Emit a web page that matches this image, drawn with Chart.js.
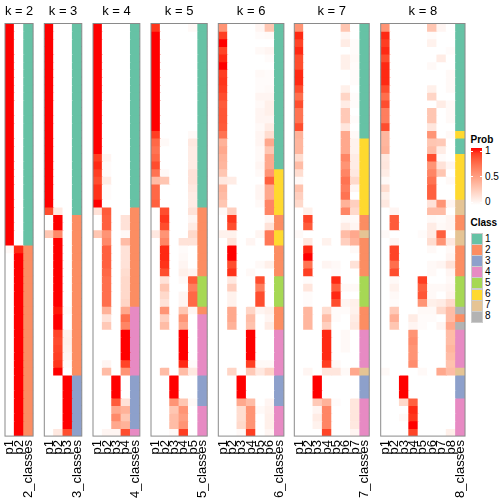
<!DOCTYPE html>
<html><head><meta charset="utf-8">
<script src="https://cdn.jsdelivr.net/npm/chart.js@4.4.1/dist/chart.umd.min.js"></script>
<style>
body{margin:0;width:504px;height:504px;overflow:hidden;background:#fff;position:relative;font-family:"Liberation Sans",Arial,sans-serif;}
canvas{position:absolute;top:0;}
.lg{position:absolute;font-size:10px;color:#000;line-height:10px;white-space:nowrap;}
.lgt{font-weight:bold;}
</style></head><body>
<script>
// ---------------- DATA ----------------
const panelKs = [2,3,4,5,6,7,8];
const tickLabelsK2 = ['p1','p2','2_classes'];
const tickLabelsK3 = ['p1','p2','p3','3_classes'];
const tickLabelsK4 = ['p1','p2','p3','p4','4_classes'];
const tickLabelsK5 = ['p1','p2','p3','p4','p5','5_classes'];
const tickLabelsK6 = ['p1','p2','p3','p4','p5','p6','6_classes'];
const tickLabelsK7 = ['p1','p2','p3','p4','p5','p6','p7','7_classes'];
const tickLabelsK8 = ['p1','p2','p3','p4','p5','p6','p7','p8','8_classes'];
const classNames = ['1','2','3','4','5','6','7','8'];
const probTicks = ['1','0.5','0'];

const classK2 = [1,1,1,1,1,1,1,1,1,1,1,1,1,1,1,1,1,1,1,1,1,1,1,1,1,1,1,1,1,2,2,2,2,2,2,2,2,2,2,2,2,2,2,2,2,2,2,2,2,2,2,2,2,2];
const probK2 = [
[1,0],[1,0],[1,0],[1,0],[1,0],[1,0],[1,0],[1,0],[1,0],[1,0],
[1,0],[1,0],[1,0],[1,0],[1,0],[1,0],[1,0],[1,0],[1,0],[1,0],
[1,0],[1,0],[1,0],[1,0],[1,0],[1,0],[1,0],[1,0],[1,0],[0.03,0.95],
[0,1],[0,1],[0,1],[0,1],[0,1],[0,1],[0,1],[0,1],[0,1],[0,1],
[0,1],[0,1],[0,1],[0,1],[0,1],[0,1],[0,1],[0,1],[0,1],[0,1],
[0,1],[0,1],[0,1],[0,1]];

const classK3 = [1,1,1,1,1,1,1,1,1,1,1,1,1,1,1,1,1,1,1,1,1,1,1,1,1,2,2,2,2,2,2,2,2,2,2,2,2,2,2,2,2,2,2,2,2,2,3,3,3,3,3,3,3,3];
const probK3 = [
[1,0,0],[1,0,0],[1,0,0],[1,0,0],[1,0,0],[1,0,0],[1,0,0],[1,0,0],[1,0,0],[1,0,0],
[1,0,0],[1,0,0],[1,0,0],[1,0,0],[1,0,0],[1,0,0],[1,0,0],[1,0,0],[1,0,0],[1,0,0],
[1,0,0],[1,0,0],[1,0,0],[1,0,0],[0.85,0.12,0],[0,1,0],[0,1,0],[0.3,0.6,0],[0,1,0],[0,1,0],
[0,1,0],[0,1,0],[0,1,0],[0,1,0],[0,1,0],[0,1,0],[0,1,0],[0,0.98,0.02],[0,1,0],[0,1,0],
[0,0.88,0.07],[0,0.86,0.08],[0,0.88,0.07],[0,0.9,0.05],[0,0.92,0.02],[0,1,0],[0,0,1],[0,0,1],[0,0,1],[0,0,1],
[0,0,1],[0,0,1],[0,0,1],[0,0.12,0.85]];

const classK4 = [1,1,1,1,1,1,1,1,1,1,1,1,1,1,1,1,1,1,1,1,1,1,1,1,2,2,2,2,2,2,2,2,2,2,2,2,2,4,4,4,4,4,4,4,4,4,3,3,3,3,3,3,3,4];
const probK4 = [
[1,0,0,0],[1,0,0,0],[1,0,0,0],[1,0,0,0],[1,0,0,0],[1,0,0,0],[1,0,0,0],[1,0,0,0],[1,0,0,0],[1,0,0,0],
[1,0,0,0],[1,0,0,0],[1,0,0,0],[1,0,0,0],[1,0,0,0],[1,0,0,0],[1,0,0,0],[0.9,0.05,0,0],[0.95,0.02,0,0],[0.9,0.02,0,0],
[0.85,0.1,0,0],[0.93,0.02,0,0],[0.93,0.02,0,0],[1,0,0,0],[0.15,0.8,0,0],[0,0.78,0,0.15],[0,0.78,0,0.15],[0.3,0.55,0,0.03],[0,0.6,0,0.35],[0,0.78,0,0.15],
[0,0.78,0,0.15],[0,0.78,0,0.15],[0,0.75,0,0.18],[0,0.72,0,0.2],[0,0.72,0,0.2],[0,0.72,0,0.2],[0,0.72,0,0.22],[0,0.4,0,0.45],[0,0.15,0,0.72],[0,0.28,0,0.62],
[0,0,0,1],[0,0,0,1],[0,0,0,1],[0,0,0,1],[0,0.05,0,0.88],[0,0.35,0,0.55],[0,0,1,0],[0,0,1,0],[0,0,1,0],[0,0,0.8,0.15],
[0,0,0.45,0.4],[0,0,0.6,0.3],[0,0,0.45,0.4],[0,0.05,0.05,0.85]];

const classK5 = [1,1,1,1,1,1,1,1,1,1,1,1,1,1,1,1,1,1,1,1,1,1,1,1,2,2,2,2,2,2,2,2,2,5,5,5,5,2,4,4,4,4,4,4,4,4,3,3,3,3,4,4,4,4];
const probK5 = [
[0.92,0,0,0,0.03],[1,0,0,0,0],[1,0,0,0,0],[1,0,0,0,0],[1,0,0,0,0],[1,0,0,0,0],[1,0,0,0,0],[1,0,0,0,0],[1,0,0,0,0],[1,0,0,0,0],
[1,0,0,0,0],[1,0,0,0,0],[1,0,0,0,0],[1,0,0,0,0],[0.9,0,0,0,0.03],[0.75,0.03,0,0,0.12],[0.7,0,0,0,0.1],[0.75,0,0,0,0.1],[0.85,0,0,0,0.1],[0.7,0.03,0,0,0.15],
[0.35,0.3,0,0,0.15],[0.75,0,0,0,0.12],[0.75,0,0,0,0.1],[0.78,0,0,0,0.1],[0,0.85,0,0,0.15],[0,0.92,0,0,0.05],[0,0.85,0,0,0.1],[0.12,0.55,0,0,0.2],[0,0.62,0,0.15,0.15],[0,0.95,0,0.02,0],
[0,0.95,0,0.03,0],[0,0.93,0,0.05,0],[0,0.85,0,0.08,0.05],[0,0.15,0,0.03,0.8],[0,0.3,0,0,0.65],[0,0.2,0,0.05,0.75],[0,0.15,0,0.05,0.75],[0,0.55,0,0.3,0.05],[0,0.25,0,0.55,0],[0,0.35,0,0.45,0],
[0,0,0,1,0],[0,0,0,1,0],[0,0,0,1,0],[0,0,0,1,0],[0,0,0,0.95,0.02],[0,0.35,0,0.35,0.12],[0,0,1,0,0],[0,0,1,0,0],[0,0,1,0,0],[0,0,0.55,0.3,0.03],
[0,0,0.3,0.55,0],[0,0,0.35,0.5,0],[0,0,0.35,0.55,0],[0,0,0.03,0.9,0]];

const classK6 = [1,1,1,1,1,1,1,1,1,1,1,1,1,1,1,1,1,1,1,6,6,6,6,6,6,2,2,6,6,2,2,2,2,5,5,5,5,2,2,2,4,4,4,4,4,4,3,3,3,3,4,4,4,4];
const probK6 = [
[0.55,0,0,0,0.05,0.3],[0.9,0,0,0,0.02,0.03],[1,0,0,0,0,0],[0.88,0,0,0,0.03,0.05],[0.95,0,0,0,0,0.02],[1,0,0,0,0,0],[0.9,0,0,0,0.03,0.02],[0.92,0,0,0,0.02,0.02],[0.9,0,0,0,0.02,0.03],[0.85,0,0,0,0.05,0.05],
[0.8,0,0,0,0.03,0.08],[0.82,0,0,0,0.05,0.08],[0.82,0,0,0,0.05,0.05],[0.8,0,0,0,0.03,0.1],[0.7,0,0,0,0.05,0.18],[0.4,0,0,0,0.05,0.45],[0.45,0,0,0,0.03,0.3],[0.4,0,0,0,0.03,0.45],[0.38,0,0,0,0.05,0.45],[0.3,0,0,0,0.03,0.55],
[0.12,0.1,0,0,0,0.78],[0.38,0,0,0,0.05,0.45],[0.35,0,0,0,0.05,0.45],[0.3,0,0,0,0.03,0.62],[0.03,0.25,0,0,0,0.62],[0,0.92,0,0,0,0.05],[0,0.85,0,0,0,0.15],[0.07,0.07,0,0,0.05,0.68],[0,0.15,0,0.05,0,0.68],[0,1,0,0,0,0],
[0,1,0,0,0,0],[0,0.85,0,0,0.03,0.08],[0,0.93,0,0.03,0,0],[0,0.12,0,0,0.85,0],[0,0.25,0,0,0.65,0],[0,0.07,0,0,0.85,0],[0,0.07,0,0,0.85,0],[0,0.45,0,0.22,0.05,0.08],[0,0.45,0,0.35,0,0.05],[0,0.4,0,0.32,0,0.1],
[0,0,0,1,0,0],[0,0,0,1,0,0],[0,0,0,1,0,0],[0,0,0,1,0,0],[0,0,0,0.9,0.03,0.03],[0,0.22,0,0.28,0.12,0.22],[0,0,1,0,0,0],[0,0,1,0,0,0],[0,0,1,0,0,0],[0,0,0.45,0.35,0,0.05],
[0,0,0.18,0.55,0.03,0.07],[0,0,0.18,0.55,0,0.08],[0,0,0.2,0.55,0,0.08],[0,0,0.03,0.9,0,0.05]];

const classK7 = [1,1,1,1,1,1,1,1,1,1,1,1,1,1,1,6,6,6,6,6,6,6,6,6,6,2,2,7,2,2,2,2,2,5,5,5,5,2,2,2,4,4,4,4,4,7,3,3,3,4,4,4,4,4];
const probK7 = [
[0.55,0,0,0,0,0.3,0],[0.95,0,0,0,0,0.05,0],[0.88,0,0,0,0,0.1,0.02],[0.95,0,0,0,0,0,0.02],[0.85,0,0,0,0,0.08,0.03],[0.85,0,0,0,0,0.08,0.02],[0.95,0,0,0,0,0,0.02],[0.95,0,0,0,0,0,0.02],[0.85,0,0,0,0,0.08,0],[0.72,0,0,0,0,0.22,0.02],
[0.85,0,0,0,0,0.1,0.02],[0.7,0,0,0,0,0.28,0],[0.7,0,0,0,0,0.28,0.02],[0.85,0,0,0,0,0.13,0],[0.4,0,0,0,0,0.45,0.03],[0.38,0,0,0,0,0.45,0.07],[0.38,0,0,0,0,0.45,0.07],[0.18,0,0,0,0,0.62,0.1],[0.35,0,0,0,0,0.55,0.1],[0.18,0,0,0,0,0.62,0.12],
[0.03,0,0,0,0,0.7,0.2],[0.32,0,0,0,0,0.65,0.05],[0.25,0,0,0,0,0.7,0],[0.2,0,0,0,0,0.4,0.25],[0,0.08,0,0,0,0.62,0.2],[0,0.88,0,0,0,0.03,0.03],[0,0.8,0,0,0,0.1,0.05],[0.03,0,0,0,0,0.35,0.45],[0,0.12,0,0.07,0,0.25,0.4],[0,0.95,0,0,0,0,0.03],
[0,1,0,0,0,0,0],[0,0.7,0,0.05,0.03,0,0.15],[0,0.9,0,0,0.02,0,0],[0,0.02,0,0,0.95,0,0],[0,0.13,0,0,0.78,0.03,0.03],[0,0.02,0,0,0.95,0,0],[0,0.02,0,0,0.85,0.05,0.08],[0,0.38,0,0.18,0.02,0.02,0.07],[0,0.38,0,0.35,0.02,0,0.1],[0,0.38,0,0.25,0,0,0.12],
[0,0,0,0.95,0,0.03,0],[0,0,0,0.95,0,0.03,0],[0,0,0,0.95,0,0.03,0],[0,0,0,0.95,0,0,0],[0,0,0,0.9,0.03,0,0],[0,0.05,0,0.13,0.13,0.03,0.45],[0,0,1,0,0,0,0],[0,0,1,0,0,0,0],[0,0,1,0,0,0,0],[0,0,0.28,0.4,0.02,0,0.13],
[0,0,0.05,0.62,0,0,0.13],[0,0,0.1,0.62,0,0,0.13],[0,0,0.07,0.62,0,0,0.12],[0,0,0,0.88,0,0,0.05]];

const classK8 = [1,1,1,1,1,1,1,1,1,1,1,1,1,1,6,1,1,6,6,6,6,6,6,7,7,2,2,7,7,2,2,2,2,5,5,5,5,8,2,8,4,4,4,4,4,7,3,3,3,4,4,4,4,4];
const probK8 = [
[0.55,0,0,0,0,0.3,0.05,0],[0.95,0,0,0,0,0.02,0,0],[0.9,0,0,0,0,0.07,0,0],[0.95,0,0,0,0,0,0,0.02],[0.85,0,0,0,0,0,0.1,0],[0.95,0,0,0,0,0.03,0,0],[0.95,0,0,0,0,0,0,0.03],[0.95,0,0,0,0,0,0,0.03],[0.85,0,0,0,0,0.08,0,0.03],[0.72,0,0,0,0,0.22,0,0],
[0.85,0,0,0,0,0,0.1,0.03],[0.65,0,0,0,0,0.3,0,0.03],[0.65,0,0,0,0,0.3,0,0.03],[0.85,0,0,0,0,0.13,0,0],[0.38,0,0,0,0,0.55,0,0.03],[0.38,0,0,0,0,0.3,0.28,0],[0.4,0,0,0,0,0.35,0.1,0],[0.12,0,0,0,0,0.85,0.02,0],[0.13,0,0,0,0,0.55,0.15,0.05],[0.1,0,0,0,0,0.62,0.3,0],
[0.03,0,0,0,0,0.7,0,0.03],[0.18,0,0,0,0,0.78,0,0],[0.08,0,0,0,0,0.78,0,0],[0.12,0,0,0,0,0.15,0.55,0.05],[0,0.05,0,0,0,0.35,0.35,0],[0,0.8,0,0,0,0.03,0.02,0.05],[0,0.8,0,0,0,0.1,0.03,0.05],[0.03,0,0,0,0.02,0.1,0.78,0],[0,0.05,0,0,0,0.18,0.55,0.12],[0,0.88,0,0,0,0.03,0,0.03],
[0,0.88,0,0,0,0,0,0.05],[0,0.72,0,0,0,0.03,0.05,0.15],[0,0.85,0,0,0,0.03,0,0.05],[0,0.03,0,0,0.9,0,0,0.03],[0,0.07,0,0,0.78,0.03,0.03,0.05],[0,0.03,0,0,0.82,0.03,0,0.07],[0,0.02,0,0,0.55,0.08,0.1,0.2],[0,0.28,0,0,0.03,0.03,0.2,0.35],[0,0.42,0,0.1,0.02,0.02,0,0.35],[0,0.3,0,0.05,0.02,0,0.05,0.45],
[0,0,0,0.55,0,0,0,0.35],[0,0,0,0.58,0,0,0,0.35],[0,0,0,0.55,0,0,0,0.38],[0,0,0,0.55,0,0,0,0.35],[0,0,0,0.58,0,0,0,0.32],[0.03,0,0,0,0.03,0,0.45,0.35],[0,0,1,0,0,0,0,0],[0,0,1,0,0,0,0,0],[0,0,1,0,0,0,0,0],[0,0,0.2,0.78,0,0,0,0],
[0,0,0,0.95,0,0,0,0],[0,0,0.03,0.92,0,0,0,0],[0,0,0,1,0,0,0,0],[0,0,0,0.88,0,0,0,0.08]];

// ---------------- STYLE / LAYOUT ----------------
const FONT = '"Liberation Sans", Arial, sans-serif';
const classColors = ['#66C2A5','#FC8D62','#8DA0CB','#E78AC3','#A6D854','#FFD92F','#E5C494','#B3B3B3'];
const panelLefts = [5, 44.3, 93, 151, 218.3, 294.3, 380.7];
const CELL_W = 9.37;
const AREA_BOTTOM = 436.1;
const W = 504, H = 504;

const tickTables = [tickLabelsK2,tickLabelsK3,tickLabelsK4,tickLabelsK5,tickLabelsK6,tickLabelsK7,tickLabelsK8];
const probTables = [probK2,probK3,probK4,probK5,probK6,probK7,probK8];
const classTables = [classK2,classK3,classK4,classK5,classK6,classK7,classK8];

// white -> red ramp interpolated in CIE Lab (like colorRamp2)
function s2l(c){c/=255;return c<=0.04045?c/12.92:Math.pow((c+0.055)/1.055,2.4);}
function l2s(c){c=Math.max(0,Math.min(1,c));const v=c<=0.0031308?12.92*c:1.055*Math.pow(c,1/2.4)-0.055;return Math.round(v*255);}
function rgb2lab(r,g,b){const R=s2l(r),G=s2l(g),B=s2l(b);
  const X=(0.4124*R+0.3576*G+0.1805*B)/0.95047,Y=0.2126*R+0.7152*G+0.0722*B,Z=(0.0193*R+0.1192*G+0.9505*B)/1.08883;
  const f=t=>t>0.008856?Math.cbrt(t):7.787*t+16/116;const fx=f(X),fy=f(Y),fz=f(Z);
  return [116*fy-16,500*(fx-fy),200*(fy-fz)];}
function lab2rgb(L,a,b){const fy=(L+16)/116,fx=fy+a/500,fz=fy-b/200;
  const fi=t=>t*t*t>0.008856?t*t*t:(t-16/116)/7.787;
  const X=fi(fx)*0.95047,Y=fi(fy),Z=fi(fz)*1.08883;
  return [l2s(3.2406*X-1.5372*Y-0.4986*Z),l2s(-0.9689*X+1.8758*Y+0.0415*Z),l2s(0.0557*X-0.2040*Y+1.0570*Z)];}
const LAB0 = rgb2lab(255,255,255), LAB1 = rgb2lab(255,0,0);
function ramp(v){v=Math.max(0,Math.min(1,v));
  const c=lab2rgb(LAB0[0]+(LAB1[0]-LAB0[0])*v,LAB0[1]+(LAB1[1]-LAB0[1])*v,LAB0[2]+(LAB1[2]-LAB0[2])*v);
  return 'rgb('+c[0]+','+c[1]+','+c[2]+')';}

const borderPlugin = {
  id:'panelBorder',
  afterDatasetsDraw(chart){
    const {ctx, chartArea:a} = chart;
    ctx.save(); ctx.strokeStyle='#8a8a8a'; ctx.lineWidth=1;
    ctx.strokeRect(a.left, a.top, a.right-a.left, a.bottom-a.top);
    ctx.restore();
  }
};

panelKs.forEach((k, idx) => {
  const labels = tickTables[idx];
  const probs = probTables[idx];
  const cls = classTables[idx];
  const nRows = probs.length;
  const left = panelLefts[idx];
  const right = left + labels.length*CELL_W;
  const cLeft = Math.floor(left) - 4;
  const cRight = Math.ceil(right) + 4;
  const canvas = document.createElement('canvas');
  canvas.width = cRight - cLeft; canvas.height = H;
  canvas.style.left = cLeft + 'px';
  canvas.style.width = (cRight - cLeft) + 'px'; canvas.style.height = H + 'px';
  document.body.appendChild(canvas);

  const datasets = probs.map((row, r) => ({
    data: labels.map(() => [r, r+1]),
    backgroundColor: labels.map((_, c) => c < k ? ramp(row[c]) : classColors[cls[r]-1]),
    borderWidth: 0,
    grouped: false,
    categoryPercentage: 1,
    barPercentage: 1,
    inflateAmount: 0.5
  }));

  new Chart(canvas, {
    type: 'bar',
    data: { labels, datasets },
    options: {
      responsive: false, animation: false, devicePixelRatio: 1,
      layout: { padding: { left: left - cLeft, right: cRight - right, top: 0, bottom: 0 } },
      plugins: {
        legend: { display: false }, tooltip: { enabled: false },
        title: { display: true, text: 'k = ' + k, color: '#000',
                 font: { family: FONT, size: 13, weight: 'normal', lineHeight: 1.2 },
                 padding: { top: 4, bottom: 3.9 } }
      },
      scales: {
        x: { type: 'category', offset: true,
             grid: { display: false, drawTicks: false }, border: { display: false },
             ticks: { minRotation: 90, maxRotation: 90, autoSkip: false, padding: 4, color: '#000',
                      font: { family: FONT, size: 13 } },
             afterFit: s => { s.height = H - AREA_BOTTOM; s.paddingLeft = 0; s.paddingRight = 0; } },
        y: { type: 'linear', display: false, min: 0, max: nRows, reverse: true }
      }
    },
    plugins: [borderPlugin]
  });
});

// ---------------- LEGEND ----------------
function addDiv(cls, text, x, y, extra){const d=document.createElement('div');d.className=cls;if(text!==null)d.textContent=text;
  d.style.left=x+'px';d.style.top=y+'px';if(extra)Object.assign(d.style,extra);document.body.appendChild(d);return d;}
addDiv('lg lgt','Prob',470.5,135);
const BAR_TOP=148, BAR_H=57;
const stops=[];for(let i=0;i<=10;i++){stops.push(ramp(1-i/10)+' '+(i*10)+'%');}
addDiv('lg',null,470.5,BAR_TOP,{width:'11px',height:BAR_H+'px',background:'linear-gradient(to bottom,'+stops.join(',')+')'});
probTicks.forEach((t,i)=>{
  const y = BAR_TOP + 3 + i*(BAR_H-6)/2;
  addDiv('lg',null,470.5,y-0.5,{width:'2px',height:'1px',background:'#fff'});
  addDiv('lg',null,479.5,y-0.5,{width:'2px',height:'1px',background:'#fff'});
  addDiv('lg',t,485,y-5);
});
addDiv('lg lgt','Class',470.5,218);
classNames.forEach((c,i)=>{
  const y = 233 + i*11.1;
  addDiv('lg',null,470.5,y,{width:'10px',height:'10px',background:classColors[i],border:'0.5px solid #ccc'});
  addDiv('lg',c,485,y+0.5);
});
</script>
</body></html>
